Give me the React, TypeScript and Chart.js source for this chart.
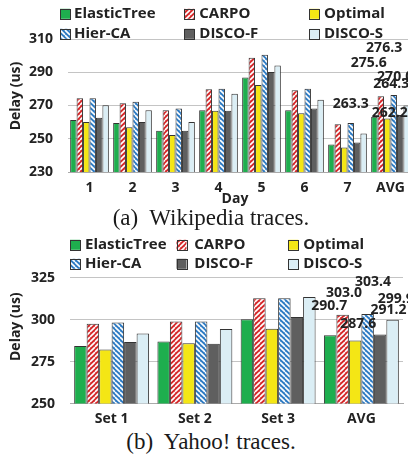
import React, { useEffect, useRef } from 'react';
import { Chart, registerables } from 'chart.js';

Chart.register(...registerables);

// ---------- data ----------
const seriesNames = ['ElasticTree', 'CARPO', 'Optimal', 'Hier-CA', 'DISCO-F', 'DISCO-S'];

const wikiDays = ['1', '2', '3', '4', '5', '6', '7', 'AVG'];
const wikiElasticTree = [261.3, 259.5, 254.8, 267.2, 286.8, 267.2, 246.5, 263.3];
const wikiCARPO = [274.4, 271.4, 267.2, 279.7, 298.7, 279.1, 258.7, 275.6];
const wikiOptimal = [260.1, 256.9, 252.2, 266.8, 282.3, 265.3, 244.7, 262.2];
const wikiHierCA = [274.4, 272.2, 268.2, 280.1, 300.5, 280.1, 259.5, 276.3];
const wikiDiscoF = [262.7, 260.1, 254.8, 266.8, 290.2, 268.2, 247.8, 264.3];
const wikiDiscoS = [270.2, 267.2, 260.1, 277.1, 294.0, 273.4, 253.2, 270.0];
const wikiTicks = [230, 250, 270, 290, 310];

const yahooSets = ['Set 1', 'Set 2', 'Set 3', 'AVG'];
const yahooElasticTree = [284.3, 287.0, 300.3, 290.7];
const yahooCARPO = [297.5, 298.9, 312.7, 303.0];
const yahooOptimal = [282.2, 285.9, 294.6, 287.6];
const yahooHierCA = [298.3, 298.9, 312.7, 303.4];
const yahooDiscoF = [286.7, 285.7, 301.6, 291.2];
const yahooDiscoS = [291.7, 294.4, 313.5, 299.9];
const yahooTicks = [250, 275, 300, 325];

// ---------- styles ----------
const COLORS = {
  green: '#1eae4e',
  red: '#d62a2c',
  yellow: '#f4e615',
  blue: '#2f7cc4',
  gray: '#5f5f5f',
  light: '#dbeef5',
  border: '#333333',
  grid: '#c4c4c4',
  axis: '#aaaaaa',
  text: '#222222',
};
const FONT = '"Open Sans", "Liberation Sans", sans-serif';

function hatch(ctx: CanvasRenderingContext2D, color: string, dir: 'fwd' | 'back'): CanvasPattern {
  const n = 5;
  const c = document.createElement('canvas');
  c.width = n;
  c.height = n;
  const g = c.getContext('2d')!;
  g.fillStyle = color;
  g.fillRect(0, 0, n, n);
  g.strokeStyle = '#ffffff';
  g.lineWidth = 1.6;
  g.beginPath();
  for (const o of [-n, 0, n]) {
    if (dir === 'fwd') {
      g.moveTo(o, n);
      g.lineTo(o + n, 0);
    } else {
      g.moveTo(o, 0);
      g.lineTo(o + n, n);
    }
  }
  g.stroke();
  return ctx.createPattern(c, 'repeat')!;
}

type Spec = {
  labels: string[];
  series: number[][];
  ticks: number[];
  width: number;
  height: number;
  padTop: number;
  padRight: number;
  padBottom: number;
  yWidth: number;
  xHeight: number;
  xTickPad: number;
  yTickPad: number;
  legendBase: number[];
  legendBoxX: number[];
  legendTextX: number[];
  yTitle: [number, number];
  xTitle?: { text: string; x: number; y: number };
  labelOffsets: [number, number][];
};

function buildChart(canvas: HTMLCanvasElement, spec: Spec) {
  const ctx = canvas.getContext('2d')!;
  const fills: (string | CanvasPattern)[] = [
    COLORS.green,
    hatch(ctx, COLORS.red, 'fwd'),
    COLORS.yellow,
    hatch(ctx, COLORS.blue, 'back'),
    COLORS.gray,
    COLORS.light,
  ];
  const datasets = spec.series.map((vals, i) => ({
    label: seriesNames[i],
    data: vals,
    backgroundColor: fills[i] as any,
    borderColor: COLORS.border,
    borderWidth: 1,
    categoryPercentage: 0.9,
    barPercentage: 1,
  }));

  const decor = {
    id: 'decor',
    afterDatasetsDraw(chart: any) {
      const c = chart.ctx as CanvasRenderingContext2D;
      const last = spec.labels.length - 1;
      c.save();
      c.font = `bold 14px ${FONT}`;
      c.fillStyle = COLORS.text;
      c.textAlign = 'center';
      c.textBaseline = 'alphabetic';
      spec.series.forEach((vals, i) => {
        const el = chart.getDatasetMeta(i).data[last];
        const [dx, dy] = spec.labelOffsets[i];
        c.fillText(vals[last].toFixed(1), el.x + dx, el.y + dy + 5);
      });
      c.restore();
    },
    afterDraw(chart: any) {
      const c = chart.ctx as CanvasRenderingContext2D;
      c.save();
      // legend
      seriesNames.forEach((name, k) => {
        const row = Math.floor(k / 3);
        const col = k % 3;
        const base = spec.legendBase[row];
        const bx = spec.legendBoxX[col];
        const by = base - 9.5;
        c.fillStyle = fills[k] as any;
        c.fillRect(bx, by, 10, 10);
        c.strokeStyle = COLORS.border;
        c.lineWidth = 1;
        c.strokeRect(Math.round(bx) + 0.5, Math.round(by) + 0.5, 10, 10);
        c.fillStyle = COLORS.text;
        c.font = `bold 15px ${FONT}`;
        c.textAlign = 'left';
        c.textBaseline = 'alphabetic';
        c.fillText(name, spec.legendTextX[col], base);
      });
      // y title
      c.font = `bold 14px ${FONT}`;
      c.fillStyle = COLORS.text;
      c.textAlign = 'center';
      c.textBaseline = 'middle';
      c.save();
      c.translate(spec.yTitle[0], spec.yTitle[1]);
      c.rotate(-Math.PI / 2);
      c.fillText('Delay (us)', 0, 0);
      c.restore();
      if (spec.xTitle) {
        c.fillText(spec.xTitle.text, spec.xTitle.x, spec.xTitle.y);
      }
      c.restore();
    },
  };

  const tmin = spec.ticks[0];
  const tmax = spec.ticks[spec.ticks.length - 1];
  const step = spec.ticks[1] - spec.ticks[0];

  return new Chart(canvas, {
    type: 'bar',
    data: { labels: spec.labels, datasets: datasets as any },
    options: {
      responsive: false,
      animation: false,
      events: [],
      layout: { padding: { top: spec.padTop, right: spec.padRight, bottom: spec.padBottom, left: 0 } },
      plugins: { legend: { display: false }, tooltip: { enabled: false } },
      scales: {
        x: {
          grid: { display: false, drawTicks: false },
          border: { display: true, color: COLORS.axis, width: 1 },
          ticks: { padding: spec.xTickPad, color: COLORS.text, font: { family: FONT, weight: 'bold', size: 14 } },
          afterFit: (s: any) => {
            s.height = spec.xHeight;
          },
        },
        y: {
          min: tmin,
          max: tmax,
          ticks: {
            stepSize: step,
            padding: spec.yTickPad,
            color: COLORS.text,
            font: { family: FONT, weight: 'bold', size: 14 },
          },
          grid: { color: COLORS.grid, lineWidth: 1, drawTicks: false },
          border: { display: false },
          afterFit: (s: any) => {
            s.width = spec.yWidth;
          },
        },
      } as any,
    },
    plugins: [decor as any],
  });
}

const specA: Spec = {
  labels: wikiDays,
  series: [wikiElasticTree, wikiCARPO, wikiOptimal, wikiHierCA, wikiDiscoF, wikiDiscoS],
  ticks: wikiTicks,
  width: 430,
  height: 212,
  padTop: 39,
  padRight: 18,
  padBottom: 4,
  yWidth: 68,
  xHeight: 36,
  xTickPad: 8,
  yTickPad: 15,
  legendBase: [18.3, 38.3],
  legendBoxX: [60, 184.3, 309.3],
  legendTextX: [74, 199.3, 324],
  yTitle: [16, 96],
  xTitle: { text: 'Day', x: 235, y: 199.5 },
  labelOffsets: [
    [-23.7, -14],
    [-12, -34],
    [2.4, -6],
    [-9.6, -48],
    [-9, -32],
    [-11.5, -30],
  ],
};

const B_TOP = 222;
const specB: Spec = {
  labels: yahooSets,
  series: [yahooElasticTree, yahooCARPO, yahooOptimal, yahooHierCA, yahooDiscoF, yahooDiscoS],
  ticks: yahooTicks,
  width: 430,
  height: 205,
  padTop: 55.7,
  padRight: 27,
  padBottom: 1,
  yWidth: 70,
  xHeight: 20,
  xTickPad: 7.3,
  yTickPad: 15,
  legendBase: [249.3 - B_TOP, 268.3 - B_TOP],
  legendBoxX: [70, 176.5, 288.3],
  legendTextX: [85, 194.3, 303.3],
  yTitle: [16.5, 326.7 - B_TOP],
  labelOffsets: [
    [-1, -30],
    [1.3, -22.7],
    [3, -17],
    [5.3, -32.6],
    [8.3, -25],
    [3.2, -21.4],
  ],
};

function ChartCanvas({ spec, top }: { spec: Spec; top: number }) {
  const ref = useRef<HTMLCanvasElement | null>(null);
  useEffect(() => {
    if (!ref.current) return;
    const chart = buildChart(ref.current, spec);
    return () => chart.destroy();
  }, [spec]);
  return (
    <canvas
      ref={ref}
      width={spec.width}
      height={spec.height}
      style={{ position: 'absolute', left: 0, top, width: spec.width, height: spec.height }}
    />
  );
}

const captionStyle: React.CSSProperties = {
  position: 'absolute',
  left: 0,
  width: 422,
  textAlign: 'center',
  fontFamily: '"Liberation Serif", "Times New Roman", serif',
  fontSize: 23,
  lineHeight: '26px',
  color: '#1a1a1a',
  whiteSpace: 'pre',
};

export default function App() {
  return (
    <div
      style={{
        position: 'fixed',
        left: 0,
        top: 0,
        width: 408,
        height: 454,
        overflow: 'hidden',
        background: '#ffffff',
      }}
    >
      <ChartCanvas spec={specA} top={0} />
      <ChartCanvas spec={specB} top={B_TOP} />
      <div style={{ ...captionStyle, top: 205 }}>{'(a)  Wikipedia traces.'}</div>
      <div style={{ ...captionStyle, top: 428.7 }}>{'(b)  Yahoo! traces.'}</div>
    </div>
  );
}
